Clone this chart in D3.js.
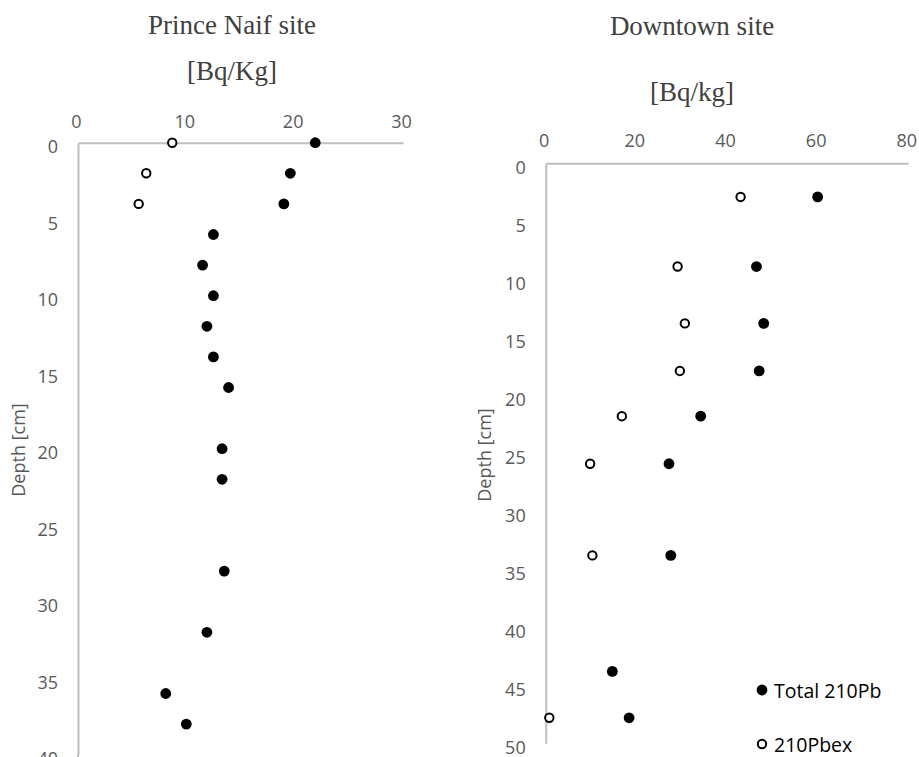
<!DOCTYPE html>
<html>
<head>
<meta charset="utf-8">
<script src="https://cdn.jsdelivr.net/npm/d3@7"></script>
<style>
  html, body { margin: 0; padding: 0; background: #fff; }
  svg { display: block; }
  .tick text { fill: #595959; font-family: "Open Sans", sans-serif; font-size: 18px; }
</style>
</head>
<body>
<svg id="chart" width="919" height="757"></svg>
<script>
// ---- Data ----
const seriesNames = ["Total 210Pb", "210Pbex"];

// Prince Naif site
const pnDepthTotal = [0, 2, 4, 6, 8, 10, 12, 14, 16, 20, 22, 28, 32, 36, 38];
const pnTotal      = [21.9, 19.6, 19.0, 12.5, 11.5, 12.5, 11.9, 12.5, 13.9, 13.3, 13.3, 13.5, 11.9, 8.1, 10.0];
const pnDepthEx    = [0, 2, 4];
const pnEx         = [8.7, 6.3, 5.6];
const pnXTicks = [0, 10, 20, 30];
const pnYTicks = [0, 5, 10, 15, 20, 25, 30, 35, 40];

// Downtown site
const dtDepthTotal = [2.9, 8.9, 13.8, 17.9, 21.8, 25.9, 33.8, 43.8, 47.8];
const dtTotal      = [60.0, 46.5, 48.1, 47.1, 34.2, 27.2, 27.6, 14.7, 18.4];
const dtDepthEx    = [2.9, 8.9, 13.8, 17.9, 21.8, 25.9, 33.8, 47.8];
const dtEx         = [43.0, 29.1, 30.7, 29.6, 16.8, 9.8, 10.3, 0.8];
const dtXTicks = [0, 20, 40, 60, 80];
const dtYTicks = [0, 5, 10, 15, 20, 25, 30, 35, 40, 45, 50];

const svg = d3.select("#chart");
const axisColor = "#bfbfbf";

function panel(cfg) {
  const x = d3.scaleLinear().domain(cfg.xDomain).range(cfg.xRange);
  const y = d3.scaleLinear().domain(cfg.yDomain).range(cfg.yRange);
  const g = svg.append("g");

  // Titles
  g.append("text").attr("x", cfg.titleX).attr("y", cfg.titleY)
    .attr("text-anchor", "middle").attr("fill", "#404040")
    .style("font-family", "'Liberation Serif', 'Times New Roman', serif")
    .style("font-size", "27px").text(cfg.title);
  g.append("text").attr("x", cfg.titleX).attr("y", cfg.unitY)
    .attr("text-anchor", "middle").attr("fill", "#404040")
    .style("font-family", "'Liberation Serif', 'Times New Roman', serif")
    .style("font-size", "27px").text(cfg.unit);

  // X axis (top)
  const xa = g.append("g").attr("transform", `translate(0,${y(0)})`)
    .call(d3.axisTop(x).tickValues(cfg.xTicks).tickSize(0).tickSizeOuter(0).tickPadding(cfg.xPad));
  xa.select(".domain").attr("stroke", axisColor).attr("stroke-width", 2);
  xa.selectAll(".tick text").attr("dx", "-2");

  // Y axis (left)
  const ya = g.append("g").attr("transform", `translate(${x(0)},0)`)
    .call(d3.axisLeft(y).tickValues(cfg.yTicks).tickSize(0).tickSizeOuter(0).tickPadding(20));
  ya.select(".domain").attr("stroke", axisColor).attr("stroke-width", 2);
  ya.selectAll(".tick text").attr("dy", "0.55em");
  if (cfg.yExtend) {
    g.append("line").attr("x1", x(0)).attr("x2", x(0))
      .attr("y1", y(cfg.yDomain[1])).attr("y2", cfg.yExtend)
      .attr("stroke", axisColor).attr("stroke-width", 2);
  }

  // Y label
  g.append("text")
    .attr("transform", `translate(${cfg.yLabelX},${cfg.yLabelY}) rotate(-90)`)
    .attr("text-anchor", "middle").attr("fill", "#595959")
    .style("font-family", "'Open Sans', sans-serif").style("font-size", "18px")
    .text("Depth [cm]");

  // Points: excess (open) then total (filled)
  g.selectAll(".ex").data(cfg.ex.map((v, i) => [v, cfg.depthEx[i]])).enter()
    .append("circle").attr("cx", d => x(d[0])).attr("cy", d => y(d[1]))
    .attr("r", 4.2).attr("fill", "#fff").attr("stroke", "#000").attr("stroke-width", 2);
  g.selectAll(".tot").data(cfg.total.map((v, i) => [v, cfg.depthTotal[i]])).enter()
    .append("circle").attr("cx", d => x(d[0])).attr("cy", d => y(d[1]))
    .attr("r", 5.4).attr("fill", "#000");
  return { x, y };
}

panel({
  title: "Prince Naif site", unit: "[Bq/Kg]", titleX: 232, titleY: 34, unitY: 80,
  xDomain: [0, 30], xRange: [78, 403], yDomain: [0, 40], yRange: [142.7, 754.7],
  xTicks: pnXTicks, yTicks: pnYTicks, xPad: 15, yExtend: 757,
  yLabelX: 25, yLabelY: 450,
  total: pnTotal, depthTotal: pnDepthTotal, ex: pnEx, depthEx: pnDepthEx
});

panel({
  title: "Downtown site", unit: "[Bq/kg]", titleX: 692, titleY: 35, unitY: 101,
  xDomain: [0, 80], xRange: [545.7, 908.3], yDomain: [0, 50], yRange: [163.3, 743.3],
  xTicks: dtXTicks, yTicks: dtYTicks, xPad: 16,
  yLabelX: 491, yLabelY: 455,
  total: dtTotal, depthTotal: dtDepthTotal, ex: dtEx, depthEx: dtDepthEx
});

// Legend
const legend = svg.append("g");
const legY = [690, 744];
seriesNames.forEach((name, i) => {
  const row = legend.append("g").attr("transform", `translate(762,${legY[i]})`);
  if (i === 0) row.append("circle").attr("r", 5.4).attr("fill", "#000");
  else row.append("circle").attr("r", 4.2).attr("fill", "#fff").attr("stroke", "#000").attr("stroke-width", 2);
  row.append("text").attr("x", 12).attr("y", 0).attr("dy", "0.4em")
    .attr("fill", "#000").style("font-family", "'Open Sans', sans-serif")
    .style("font-size", "19.5px").text(name);
});
</script>
</body>
</html>
